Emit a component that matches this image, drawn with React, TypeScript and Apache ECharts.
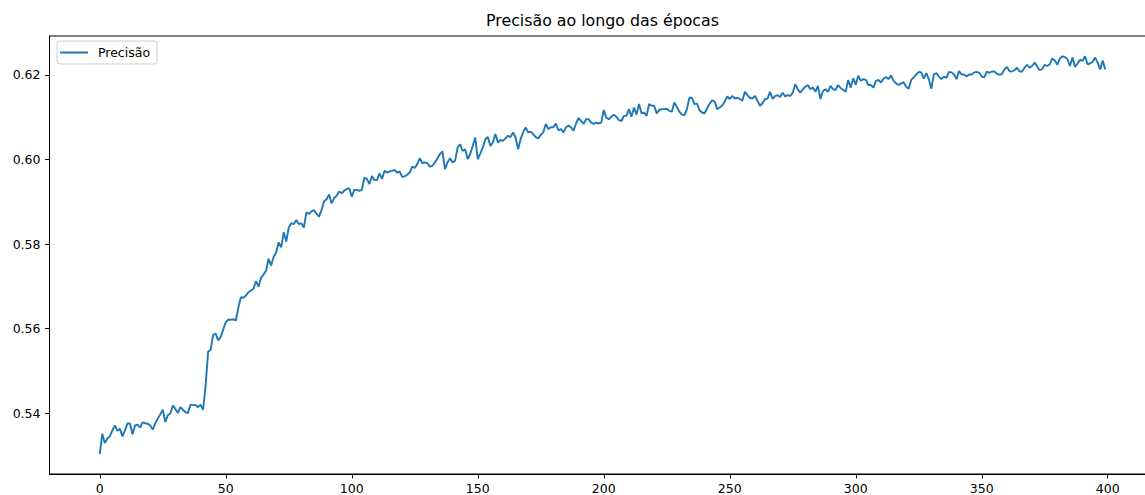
import React, { useEffect, useRef } from "react";
import * as echarts from "echarts";

const chartTitle = "Precisão ao longo das épocas";
const seriesName = "Precisão";

const precision = [
  0.5303, 0.5351, 0.5329, 0.5340, 0.5345, 0.5359, 0.5371, 0.5358, 0.5363, 0.5345,
  0.5359, 0.5376, 0.5375, 0.5350, 0.5371, 0.5373, 0.5366, 0.5378, 0.5376, 0.5375,
  0.5371, 0.5361, 0.5375, 0.5387, 0.5397, 0.5408, 0.5379, 0.5395, 0.5399, 0.5418,
  0.5410, 0.5400, 0.5414, 0.5408, 0.5402, 0.5400, 0.5420, 0.5419, 0.5419, 0.5414,
  0.5420, 0.5408, 0.5465, 0.5545, 0.5550, 0.5585, 0.5588, 0.5572, 0.5580, 0.5598,
  0.5615, 0.5621, 0.5621, 0.5622, 0.5619, 0.5650, 0.5674, 0.5673, 0.5678, 0.5686,
  0.5690, 0.5694, 0.5712, 0.5699, 0.5720, 0.5728, 0.5737, 0.5765, 0.5749, 0.5770,
  0.5780, 0.5804, 0.5792, 0.5828, 0.5806, 0.5839, 0.5849, 0.5847, 0.5857, 0.5847,
  0.5849, 0.5839, 0.5875, 0.5871, 0.5877, 0.5880, 0.5872, 0.5865, 0.5880, 0.5901,
  0.5906, 0.5917, 0.5896, 0.5909, 0.5914, 0.5924, 0.5920, 0.5926, 0.5930, 0.5932,
  0.5912, 0.5928, 0.5928, 0.5926, 0.5928, 0.5957, 0.5954, 0.5942, 0.5961, 0.5951,
  0.5951, 0.5967, 0.5954, 0.5973, 0.5969, 0.5972, 0.5973, 0.5975, 0.5969, 0.5972,
  0.5959, 0.5960, 0.5964, 0.5969, 0.5983, 0.5980, 0.5989, 0.6003, 0.5991, 0.5993,
  0.5991, 0.5983, 0.5985, 0.5993, 0.6003, 0.6013, 0.6019, 0.5977, 0.5993, 0.6003,
  0.5993, 0.5997, 0.6028, 0.6036, 0.6020, 0.6024, 0.6001, 0.6013, 0.6032, 0.6052,
  0.6001, 0.6014, 0.6028, 0.6048, 0.6053, 0.6032, 0.6040, 0.6060, 0.6040, 0.6046,
  0.6044, 0.6050, 0.6056, 0.6053, 0.6064, 0.6052, 0.6024, 0.6048, 0.6064, 0.6076,
  0.6064, 0.6066, 0.6060, 0.6053, 0.6050, 0.6058, 0.6064, 0.6084, 0.6072, 0.6076,
  0.6076, 0.6085, 0.6069, 0.6072, 0.6064, 0.6076, 0.6080, 0.6076, 0.6068, 0.6085,
  0.6098, 0.6091, 0.6084, 0.6095, 0.6095, 0.6087, 0.6084, 0.6087, 0.6085, 0.6087,
  0.6117, 0.6099, 0.6095, 0.6101, 0.6106, 0.6101, 0.6093, 0.6091, 0.6103, 0.6103,
  0.6119, 0.6101, 0.6123, 0.6106, 0.6131, 0.6109, 0.6111, 0.6103, 0.6131, 0.6127,
  0.6127, 0.6109, 0.6117, 0.6119, 0.6119, 0.6120, 0.6115, 0.6113, 0.6135, 0.6124,
  0.6113, 0.6106, 0.6105, 0.6119, 0.6146, 0.6146, 0.6131, 0.6132, 0.6117, 0.6111,
  0.6109, 0.6121, 0.6132, 0.6140, 0.6137, 0.6119, 0.6123, 0.6127, 0.6137, 0.6149,
  0.6143, 0.6150, 0.6144, 0.6146, 0.6143, 0.6139, 0.6160, 0.6152, 0.6146, 0.6144,
  0.6150, 0.6139, 0.6127, 0.6133, 0.6143, 0.6144, 0.6160, 0.6143, 0.6150, 0.6152,
  0.6148, 0.6158, 0.6149, 0.6152, 0.6150, 0.6158, 0.6178, 0.6166, 0.6158, 0.6166,
  0.6172, 0.6176, 0.6166, 0.6170, 0.6160, 0.6174, 0.6143, 0.6162, 0.6166, 0.6160,
  0.6174, 0.6166, 0.6165, 0.6176, 0.6169, 0.6165, 0.6160, 0.6188, 0.6170, 0.6192,
  0.6177, 0.6198, 0.6186, 0.6190, 0.6188, 0.6176, 0.6176, 0.6170, 0.6186, 0.6188,
  0.6182, 0.6191, 0.6195, 0.6190, 0.6199, 0.6186, 0.6180, 0.6176, 0.6180, 0.6183,
  0.6172, 0.6167, 0.6188, 0.6194, 0.6201, 0.6207, 0.6206, 0.6191, 0.6204, 0.6190,
  0.6167, 0.6201, 0.6204, 0.6196, 0.6190, 0.6196, 0.6193, 0.6207, 0.6206, 0.6201,
  0.6190, 0.6209, 0.6201, 0.6201, 0.6196, 0.6201, 0.6201, 0.6206, 0.6207, 0.6205,
  0.6196, 0.6194, 0.6208, 0.6205, 0.6208, 0.6208, 0.6203, 0.6200, 0.6202, 0.6213,
  0.6219, 0.6209, 0.6208, 0.6211, 0.6217, 0.6208, 0.6208, 0.6217, 0.6224, 0.6217,
  0.6221, 0.6229, 0.6220, 0.6211, 0.6214, 0.6224, 0.6221, 0.6225, 0.6239, 0.6234,
  0.6224, 0.6239, 0.6244, 0.6242, 0.6237, 0.6221, 0.6241, 0.6219, 0.6227, 0.6236,
  0.6233, 0.6244, 0.6225, 0.6227, 0.6231, 0.6241, 0.6229, 0.6213, 0.6234, 0.6213,
];

const xTicks = [0, 50, 100, 150, 200, 250, 300, 350, 400];
const yTicks = [0.54, 0.56, 0.58, 0.6, 0.62];

const FONT = "DejaVu Sans";

export default function App() {
  const ref = useRef<HTMLDivElement>(null);

  useEffect(() => {
    if (!ref.current) return;
    const chart = echarts.init(ref.current, null, { renderer: "svg" });
    const data = precision.map((v, i) => [i, v]);
    chart.setOption({
      animation: false,
      backgroundColor: "#ffffff",
      grid: {
        left: 49.5,
        top: 36,
        bottom: 21,
        right: 0.5,
        show: true,
        borderColor: "#000",
        borderWidth: 1,
        backgroundColor: "transparent",
      },
      graphic: [
        {
          type: "text",
          x: 602.5,
          y: 20,
          style: {
            text: chartTitle,
            fill: "#000",
            font: `15.8px "${FONT}"`,
            textAlign: "center",
            textVerticalAlign: "middle",
          },
        },
      ],
      legend: {
        left: 57,
        top: 41,
        padding: [4, 7, 4, 3],
        itemWidth: 28,
        itemHeight: 2,
        borderColor: "#cccccc",
        borderWidth: 1,
        borderRadius: 3,
        backgroundColor: "rgba(255,255,255,0.8)",
        textStyle: {
          fontSize: 12.5,
          color: "#000",
          fontFamily: FONT,
          padding: [0, 0, 0, 5],
          lineHeight: 15,
        },
        data: [{ name: seriesName, icon: "rect" }],
      },
      xAxis: {
        type: "value",
        min: -19.95,
        max: 418.95,
        splitLine: { show: false },
        axisLine: { show: true, onZero: false, lineStyle: { color: "#000", width: 1 } },
        axisTick: {
          show: true,
          length: 4.4,
          lineStyle: { color: "#000", width: 1 },
          customValues: xTicks,
        },
        axisLabel: {
          customValues: xTicks,
          color: "#000",
          fontSize: 12.5,
          fontFamily: FONT,
          margin: 8,
          formatter: (v: number) => String(v),
        },
      },
      yAxis: {
        type: "value",
        min: 0.5256,
        max: 0.6292,
        splitLine: { show: false },
        axisLine: { show: true, onZero: false, lineStyle: { color: "#000", width: 1 } },
        axisTick: {
          show: true,
          length: 4.4,
          lineStyle: { color: "#000", width: 1 },
          customValues: yTicks,
        },
        axisLabel: {
          customValues: yTicks,
          color: "#000",
          fontSize: 12.5,
          fontFamily: FONT,
          margin: 9,
          formatter: (v: number) => v.toFixed(2),
        },
      },
      series: [
        {
          name: seriesName,
          type: "line",
          data,
          symbol: "none",
          showSymbol: false,
          lineStyle: { color: "#1f77b4", width: 1.9 },
          itemStyle: { color: "#1f77b4" },
        },
      ],
    });
    return () => chart.dispose();
  }, []);

  return (
    <div
      style={{
        position: "fixed",
        left: 0,
        top: 0,
        width: 1145,
        height: 495,
        overflow: "hidden",
      }}
    >
      <div ref={ref} style={{ width: 1156, height: 495 }} />
    </div>
  );
}
